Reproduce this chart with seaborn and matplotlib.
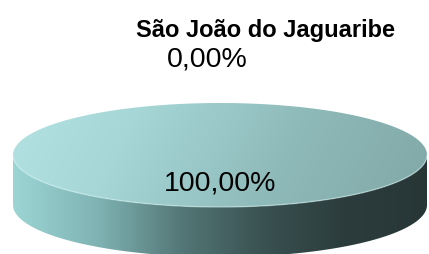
import numpy as np
import matplotlib.pyplot as plt
import seaborn as sns
from matplotlib.patches import Polygon

# data
title = 'São João do Jaguaribe'
labels = ['0,00%', '100,00%']
shares = [0.0, 100.0]

sns.set_theme(style='white')
plt.rcParams['font.family'] = ['Liberation Sans', 'DejaVu Sans']

W, H = 429, 254
fig = plt.figure(figsize=(W / 100, H / 100), dpi=100)
ax = fig.add_axes([0, 0, 1, 1])
ax.set_xlim(0, W)
ax.set_ylim(H, 0)
ax.axis('off')

# pie layout (pixel units, y pointing down)
cx, cy, rx, ry, depth = 220, 155, 207, 52, 50


def rim(a0, a1, n=240):
    # angles clockwise from 12 o'clock
    phi = np.radians(np.linspace(a0, a1, n))
    return cx + rx * np.sin(phi), cy - ry * np.cos(phi)


top_cmap = sns.blend_palette(['#b8e6e6', '#a6d6d6', '#8fbaba', '#80a8a6'], as_cmap=True)
side_cmap = sns.blend_palette(['#9cd4d4', '#80b4b4', '#557878', '#3a5252', '#2c3c3c', '#283636'],
                              as_cmap=True)

xx, yy = np.meshgrid(np.linspace(0, 1, 300), np.linspace(0, 1, 200))
top_grad = np.clip(0.85 * xx + 0.25 * yy - 0.05, 0, 1)
side_grad = np.clip((xx * W - (cx - rx)) / (2 * rx), 0, 1)


def fill(xs, ys, cmap, grad):
    patch = Polygon(np.column_stack([xs, ys]), closed=True, facecolor='none', edgecolor='none')
    ax.add_patch(patch)
    im = ax.imshow(grad, cmap=cmap, vmin=0, vmax=1, extent=[0, W, H, 0],
                   aspect='auto', interpolation='bilinear')
    im.set_clip_path(patch)


total = sum(shares)
bounds = np.concatenate([[0], np.cumsum(shares)]) / total * 360

# side walls (front half only)
for a0, a1 in zip(bounds[:-1], bounds[1:]):
    s0, s1 = max(a0, 90), min(a1, 270)
    if s1 > s0:
        tx, ty = rim(s0, s1)
        fill(np.concatenate([tx, tx[::-1]]), np.concatenate([ty, ty[::-1] + depth]),
             side_cmap, side_grad)

# top faces
for a0, a1 in zip(bounds[:-1], bounds[1:]):
    if a1 > a0:
        tx, ty = rim(a0, a1)
        if a1 - a0 < 360:
            tx, ty = np.append(tx, cx), np.append(ty, cy)
        fill(tx, ty, top_cmap, top_grad)

# light seam along the front rim
sx, sy = rim(90, 270)
ax.plot(sx, sy, color='#d4f2f2', lw=1, alpha=0.5)

# labels
for share, lab, a0, a1 in zip(shares, labels, bounds[:-1], bounds[1:]):
    mid = np.radians((a0 + a1) / 2)
    if share > 0:
        r, dx = 0.55, 0
    else:
        r, dx = 1.83, -13
    ax.text(cx + r * rx * np.sin(mid) + dx, cy - r * ry * np.cos(mid), lab,
            ha='center', va='center', fontsize=20.5, color='black')

fig.text(266 / W, 1 - 30 / H, title, ha='center', va='center',
         fontsize=17, fontweight='bold', color='black')

fig.savefig('out.png', dpi=100)
